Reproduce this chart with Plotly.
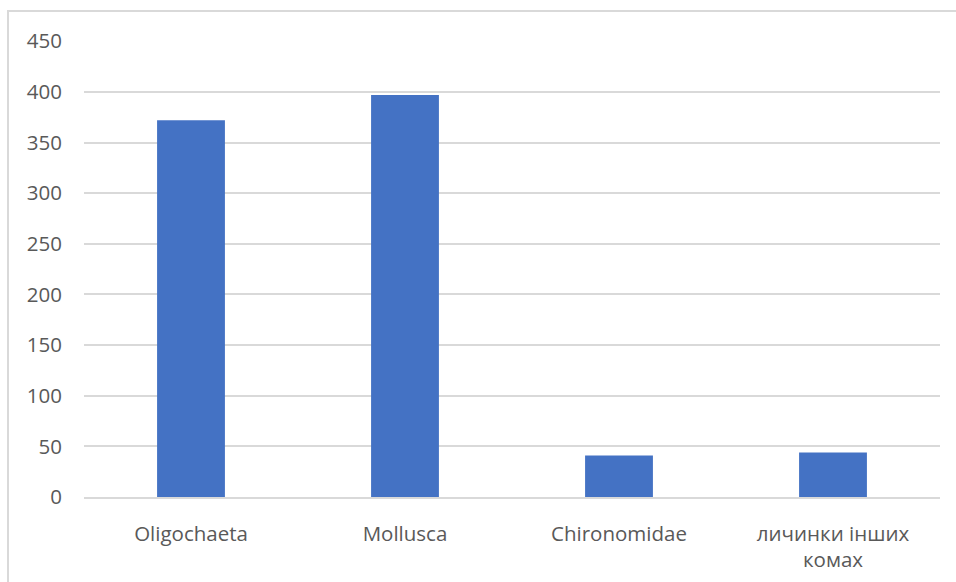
import plotly.graph_objects as go

categories = ["Oligochaeta", "Mollusca", "Chironomidae", "личинки інших<br>комах"]
values = [372, 397, 41, 44]
y_ticks = [0, 50, 100, 150, 200, 250, 300, 350, 400, 450]

W, H = 956, 582
L, R, T, B = 84, 16, 41, 85
pw, ph = W - L - R, H - T - B

fig = go.Figure(go.Bar(x=categories, y=values, marker=dict(color="#4472C4", line=dict(width=0)),
                       width=0.317, hoverinfo="x+y"))

# chart border (left and top visible; right/bottom cropped out)
bx0 = (8 - L) / pw
bx1 = (W + 20 - L) / pw
by1 = 1 + (T - 11) / ph
by0 = 1 - (H + 20 - T) / ph
fig.add_shape(type="rect", xref="paper", yref="paper", x0=bx0, x1=bx1, y0=by0, y1=by1,
              line=dict(color="#d9d9d9", width=2), fillcolor="rgba(0,0,0,0)", layer="below")

fig.update_layout(
    width=W, height=H,
    margin=dict(l=L, r=R, t=T, b=B, pad=0, autoexpand=False),
    plot_bgcolor="white", paper_bgcolor="white",
    font=dict(family="Open Sans", size=20.5, color="#595959"),
    showlegend=False,
    xaxis=dict(showgrid=False, showline=True, linecolor="#d9d9d9", linewidth=2, automargin=False,
               ticks="", ticklabelstandoff=17, zeroline=False, fixedrange=True),
    yaxis=dict(range=[0, 450.3], tickvals=y_ticks, showgrid=True, gridcolor="#d9d9d9", gridwidth=2,
               automargin=False, zeroline=False, showline=False, ticks="", ticklabelstandoff=21,
               fixedrange=True),
)

fig.write_html("out.html")
